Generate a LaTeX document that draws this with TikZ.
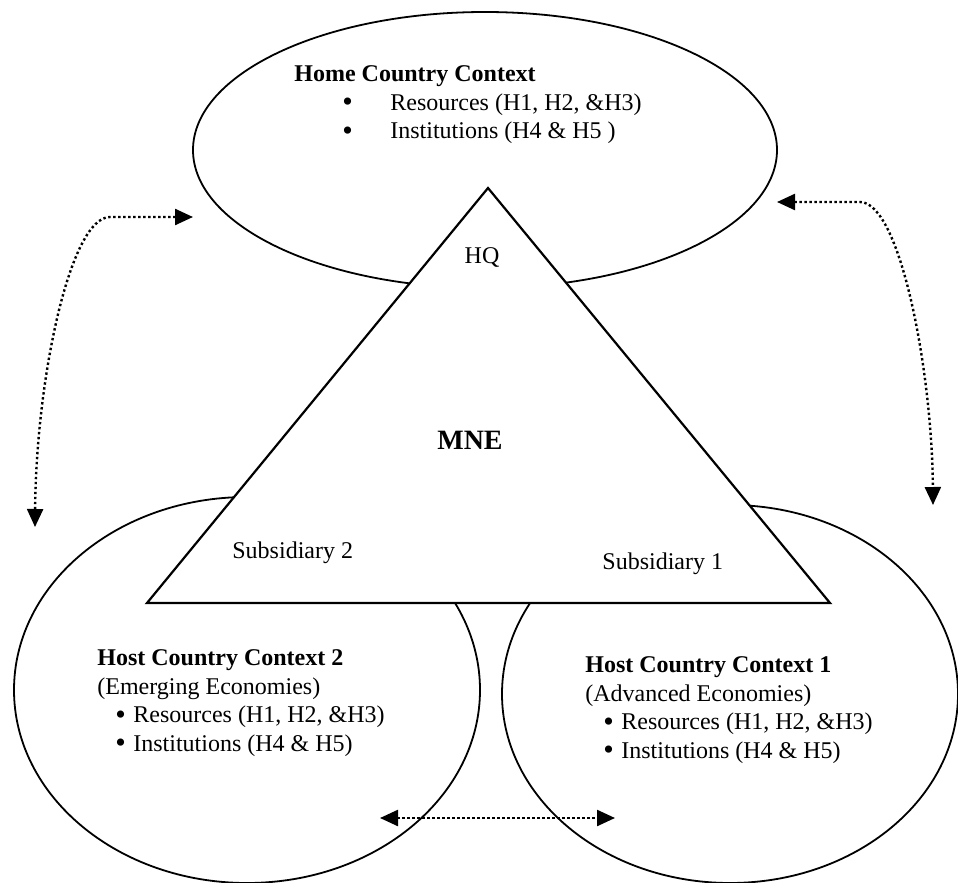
\documentclass[tikz,border=0pt]{standalone}
\usepackage{fontspec}
\setmainfont{Liberation Serif}
\usetikzlibrary{arrows.meta}
\newcommand{\bul}{\raisebox{-0.8pt}{\fontsize{15}{14.3}\selectfont•}}
\tikzset{
    every node/.style={inner sep=0pt, font=\fontsize{12}{14.3}\selectfont}
}
\tikzset{ctx/.style={draw, line width=0.9pt, fill=white}}
\tikzset{mne/.style={draw, line width=1.1pt, fill=white}}
\tikzset{link/.style={line width=1.2pt, dash pattern=on 1.2pt off 1.3pt,
    {Triangle[length=9pt,width=8pt]}-{Triangle[length=9pt,width=8pt]}}}
\begin{document}
\begin{tikzpicture}[x=0.5pt, y=-0.5pt]
        \useasboundingbox (0,0) rectangle (958,883);
        \draw[ctx] (485,150) ellipse [x radius=292, y radius=138];
        \draw[ctx] (247,690) ellipse [x radius=233, y radius=193];
        \draw[ctx] (730,694) ellipse [x radius=228, y radius=189];
        \coordinate (apex) at (488,188);
        \coordinate (sub2c) at (147,603);
        \coordinate (sub1c) at (830,603);
        \draw[mne] (apex) -- (sub2c) -- (sub1c) -- cycle;
        \node (home) [anchor=west, align=left] at (294,105) {\textbf{Home Country Context}\\
                \hspace*{24pt}\makebox[24pt][l]{\bul}Resources (H1, H2, \&H3)\\
                \hspace*{24pt}\makebox[24pt][l]{\bul}Institutions (H4 \& H5 )};
        \node (hq) at (482,257) {HQ};
        \node (mne) [font=\fontsize{14}{16}\selectfont\bfseries] at (470,440) {MNE};
        \node (sub2) [anchor=west] at (232,553) {Subsidiary 2};
        \node (sub1) [anchor=west] at (602,564) {Subsidiary 1};
        \node (host2) [anchor=west, align=left] at (97,703) {\textbf{Host Country Context 2}\\
                (Emerging Economies)\\
                \hspace*{9pt}\makebox[9pt][l]{\bul}Resources (H1, H2, \&H3)\\
                \hspace*{9pt}\makebox[9pt][l]{\bul}Institutions (H4 \& H5)};
        \node (host1) [anchor=west, align=left] at (585,710) {\textbf{Host Country Context 1}\\
                (Advanced Economies)\\
                \hspace*{9pt}\makebox[9pt][l]{\bul}Resources (H1, H2, \&H3)\\
                \hspace*{9pt}\makebox[9pt][l]{\bul}Institutions (H4 \& H5)};
        \coordinate (la) at (193,217);
        \coordinate (lb) at (110,217);
        \coordinate (lc) at (35,527);
        \coordinate (ra) at (777,202);
        \coordinate (rb) at (860,202);
        \coordinate (rc) at (933,505);
        \coordinate (ba) at (380,818);
        \coordinate (bb) at (615,818);
        \draw[link] (la) -- (lb) .. controls (70,217) and (36,380) .. (lc);
        \draw[link] (ra) -- (rb) .. controls (900,202) and (932,370) .. (rc);
        \draw[link] (ba) -- (bb);
\end{tikzpicture}
\end{document}
